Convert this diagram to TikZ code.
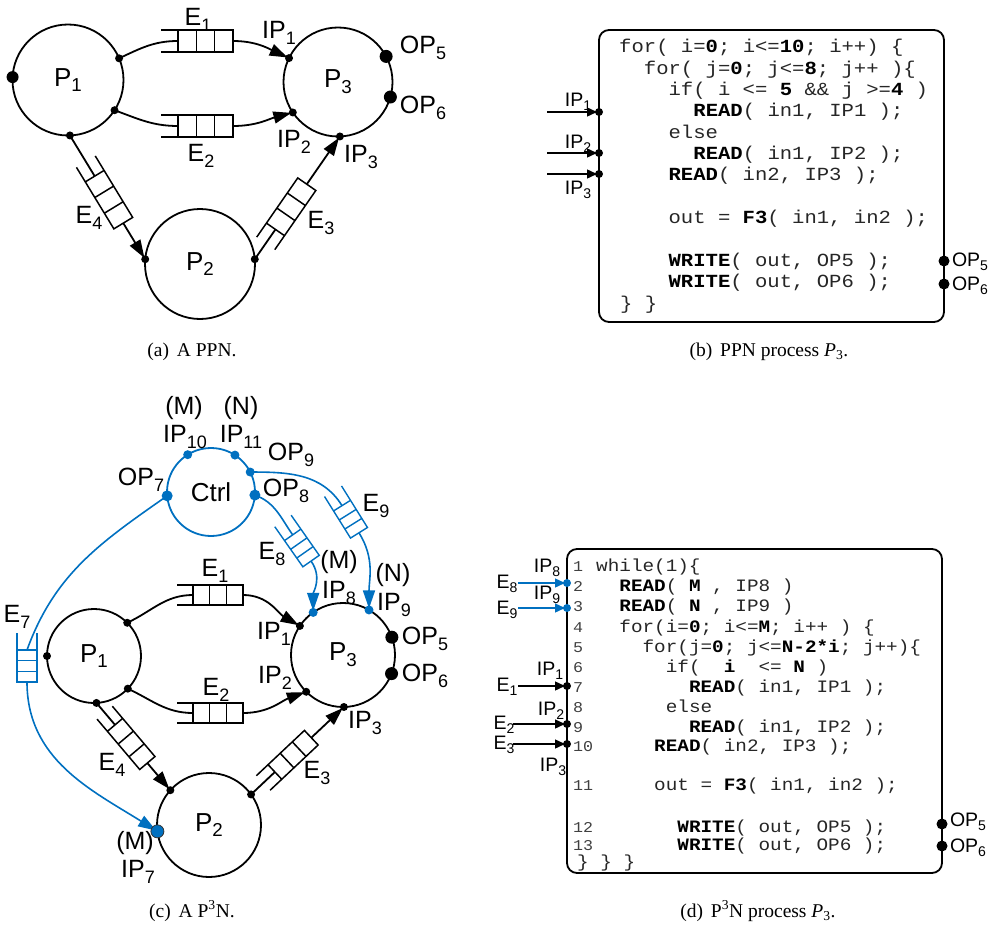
\documentclass[tikz,border=0pt]{standalone}
\usepackage{fontspec}
\usepackage{graphicx}
\setmainfont{Liberation Serif}
\newfontfamily\labfont{Liberation Sans}
\newfontfamily\codefont{Liberation Mono}
\usetikzlibrary{arrows.meta,calc}
\definecolor{pblue}{RGB}{0,112,192}
\newcommand\sbs[1]{\raisebox{-0.22em}{\scalebox{0.72}{#1}}}
\newcommand\kw[1]{\textbf{\color{black}#1}}
\newcommand\cbB[1]{\scalebox{1.113}[1]{#1}}
\newcommand\cbD[1]{\scalebox{1.111}[1]{#1}}
\newcommand\pdot[3][black]{\fill[#1] (#2) circle (#3);}
% fifo: name, position, angle, length, width, open part, colour, line width
\newcommand\fifo[8]{%
  \pgfmathsetmacro\fqL{#4/2}%
  \pgfmathsetmacro\fqW{#5/2}%
  \pgfmathsetmacro\fqB{-#4/2+#6}%
  \pgfmathsetmacro\fqC{(#4-#6)/3}%
  \begin{scope}[shift={#2},rotate=#3]
    \fill[white] (\fqB,-\fqW) rectangle (\fqL,\fqW);
    \draw[#7,line width=#8] (-\fqL,\fqW) -- (\fqL,\fqW) (-\fqL,-\fqW) -- (\fqL,-\fqW)
      (\fqB,-\fqW) rectangle (\fqL,\fqW)
      (\fqB+\fqC,-\fqW) -- (\fqB+\fqC,\fqW) (\fqB+2*\fqC,-\fqW) -- (\fqB+2*\fqC,\fqW);
    \coordinate (#1-box) at (\fqB,0);
    \coordinate (#1-out) at (\fqL,0);
  \end{scope}}
\newcommand\fifoon[9]{%
  \pgfmathanglebetweenpoints{\pgfpointanchor{#2}{center}}{\pgfpointanchor{#3}{center}}%
  \let\fqAng\pgfmathresult
  \fifo{#1}{($(#2)!#4!(#3)$)}{\fqAng}{#5}{#6}{#7}{#8}{#9}}
\tikzset{
  proc/.style={circle,draw,line width=1.8pt,inner sep=0pt,outer sep=0pt,font={\labfont\fontsize{26}{30}\selectfont}},
  lab/.style={inner sep=0pt,font={\labfont\fontsize{25}{29}\selectfont}},
  slab/.style={inner sep=0pt,font={\labfont\fontsize{19.5}{22}\selectfont}},
  conn/.style={line width=1.8pt},
  bconn/.style={line width=1.6pt,draw=pblue},
  tipA/.style={-{Triangle[length=18pt,width=12pt]},shorten >=1.5pt},
  tipS/.style={-{Triangle[length=10pt,width=9pt]},shorten >=2pt,line width=1.4pt},
  cbox/.style={draw,rounded corners=10pt,line width=1.8pt,inner sep=0pt},
  codeB/.style={anchor=base west,inner sep=0pt,text=black!85,font={\codefont\fontsize{18.5}{22}\selectfont}},
  codeD/.style={anchor=base west,inner sep=0pt,text=black!85,font={\codefont\fontsize{17.4}{20}\selectfont}},
  lnum/.style={anchor=base west,inner sep=0pt,text=black!75,font={\codefont\fontsize{15}{18}\selectfont}},
  captxt/.style={inner sep=0pt,font={\fontsize{19.5}{23}\selectfont}}
}
\begin{document}
\begin{tikzpicture}[x=1pt,y=1pt]
\useasboundingbox (0,0) rectangle (994,-931);

% ================= (a) =================
\node[proc,minimum size=111pt] (aP1) at (68,-80) {P\sbs{1}};
\node[proc,minimum size=109pt] (aP3) at (338,-82) {P\sbs{3}};
\node[proc,minimum size=110pt] (aP2) at (200,-264) {P\sbs{2}};
\coordinate (a11) at (aP1.177);
\coordinate (a12) at (aP1.23);
\coordinate (a13) at (aP1.-33);
\coordinate (a14) at (aP1.-88);
\coordinate (a31) at (aP3.154);
\coordinate (a32) at (aP3.214);
\coordinate (a33) at (aP3.272);
\coordinate (a35) at (aP3.28);
\coordinate (a36) at (aP3.-16);
\coordinate (a21) at (aP2.175);
\coordinate (a22) at (aP2.5);

\fifo{aE1}{(197,-41)}{0}{72}{22}{17}{black}{1.5pt}
\fifo{aE2}{(197,-126)}{0}{72}{22}{17}{black}{1.5pt}
\fifoon{aE4}{a14}{a21}{0.46}{72}{22}{17}{black}{1.5pt}
\fifoon{aE3}{a22}{a33}{0.37}{72}{22}{17}{black}{1.5pt}

\draw[conn] (a12) to[out=25,in=180] (aE1-box);
\draw[conn,tipA] (aE1-out) to[out=0,in=155] (a31);
\draw[conn] (a13) to[out=-20,in=180] (aE2-box);
\draw[conn,tipA] (aE2-out) to[out=0,in=195] (a32);
\draw[conn] (a14) -- (aE4-box);
\draw[conn,tipA] (aE4-out) -- (a21);
\draw[conn] (a22) -- (aE3-box);
\draw[conn,tipA] (aE3-out) -- (a33);

\pdot{a11}{6}
\pdot{a12}{4}
\pdot{a13}{4}
\pdot{a14}{4}
\pdot{a31}{4}
\pdot{a32}{4}
\pdot{a33}{4}
\pdot{a35}{6.5}
\pdot{a36}{6.5}
\pdot{a21}{4}
\pdot{a22}{4}

\node[lab] (laE1) at (198,-20) {E\sbs{1}};
\node[lab] (laE2) at (201,-156) {E\sbs{2}};
\node[lab] (laE3) at (321,-223) {E\sbs{3}};
\node[lab] (laE4) at (89,-218) {E\sbs{4}};
\node[lab] (laI1) at (279,-33) {IP\sbs{1}};
\node[lab] (laI2) at (294,-142) {IP\sbs{2}};
\node[lab] (laI3) at (361,-157) {IP\sbs{3}};
\node[lab] (laO5) at (423,-48) {OP\sbs{5}};
\node[lab] (laO6) at (423,-108) {OP\sbs{6}};

% ================= (b) =================
\node[cbox,minimum width=345pt,minimum height=292pt] (bB) at (771.5,-176) {};
\node[codeB] (b1) at (619,-53) {\cbB{for( i=\kw{0}; i<=\kw{10}; i++) \{}};
\node[codeB] (b2) at (643.7,-74.3) {\cbB{for( j=\kw{0}; j<=\kw{8}; j++ )\{}};
\node[codeB] (b3) at (668.4,-95.7) {\cbB{if( i <= \kw{5} \&\& j >=\kw{4} )}};
\node[codeB] (b4) at (693.2,-117) {\cbB{\kw{READ}( in1, IP1 );}};
\node[codeB] (b5) at (668.4,-138.3) {\cbB{else}};
\node[codeB] (b6) at (693.2,-159.7) {\cbB{\kw{READ}( in1, IP2 );}};
\node[codeB] (b7) at (668.4,-181) {\cbB{\kw{READ}( in2, IP3 );}};
\node[codeB] (b9) at (668.4,-223.7) {\cbB{out = \kw{F3}( in1, in2 );}};
\node[codeB] (b11) at (668.4,-266.3) {\cbB{\kw{WRITE}( out, OP5 );}};
\node[codeB] (b12) at (668.4,-287.7) {\cbB{\kw{WRITE}( out, OP6 );}};
\node[codeB] (b13) at (620,-309) {\cbB{\} \}}};

\coordinate (bI1) at (599,-112);
\coordinate (bI2) at (599,-153);
\coordinate (bI3) at (599,-174);
\coordinate (bS1) at (547,-112);
\coordinate (bS2) at (547,-153);
\coordinate (bS3) at (547,-174);
\coordinate (bO5) at (944,-261);
\coordinate (bO6) at (944,-284);
\draw[tipS] (bS1) -- (bI1);
\draw[tipS] (bS2) -- (bI2);
\draw[tipS] (bS3) -- (bI3);
\pdot{bI1}{4}
\pdot{bI2}{4}
\pdot{bI3}{4}
\pdot{bO5}{5.5}
\pdot{bO6}{5.5}
\node[slab] (lbI1) at (578,-102) {IP\sbs{1}};
\node[slab] (lbI2) at (578,-144) {IP\sbs{2}};
\node[slab] (lbI3) at (578,-190) {IP\sbs{3}};
\node[slab] (lbO5) at (970,-262) {OP\sbs{5}};
\node[slab] (lbO6) at (970,-286) {OP\sbs{6}};

% ================= (c) =================
\node[proc,draw=pblue,minimum size=88pt] (cC) at (211,-492) {Ctrl};
\node[proc,minimum size=94pt] (cP1) at (94,-656) {P\sbs{1}};
\node[proc,minimum size=104pt] (cP3) at (343,-655) {P\sbs{3}};
\node[proc,minimum size=104pt] (cP2) at (209,-825) {P\sbs{2}};

\coordinate (cI10) at (cC.122);
\coordinate (cI11) at (cC.57);
\coordinate (cO9) at (cC.27);
\coordinate (cO8) at (cC.-4);
\coordinate (cO7) at (cC.185);
\coordinate (c11) at (cP1.45);
\coordinate (c12) at (cP1.180);
\coordinate (c13) at (cP1.-44);
\coordinate (c14) at (cP1.-87);
\coordinate (c38) at (cP3.125);
\coordinate (c39) at (cP3.60);
\coordinate (c31) at (cP3.146);
\coordinate (c32) at (cP3.225);
\coordinate (c33) at (cP3.271);
\coordinate (c35) at (cP3.20);
\coordinate (c36) at (cP3.-21);
\coordinate (c21) at (cP2.138);
\coordinate (c22) at (cP2.36);
\coordinate (c27) at (cP2.187);

\fifo{cE1}{(210,-595)}{0}{66}{20}{16}{black}{1.5pt}
\fifo{cE2}{(210,-713)}{0}{66}{20}{16}{black}{1.5pt}
\fifoon{cE4}{c14}{c21}{0.4}{66}{20}{16}{black}{1.5pt}
\fifoon{cE3}{c22}{c33}{0.39}{66}{20}{16}{black}{1.5pt}
\fifo{cE7}{(27,-657.5)}{-90}{49}{20}{17}{pblue}{1.4pt}
\fifo{cE8}{(297,-541)}{-55}{49}{20}{17}{pblue}{1.4pt}
\fifo{cE9}{(346,-512)}{-58}{49}{20}{17}{pblue}{1.4pt}

\draw[conn] (c11) to[out=25,in=180] (cE1-box);
\draw[conn,tipA] (cE1-out) to[out=0,in=150] (c31);
\draw[conn] (c13) to[out=-25,in=180] (cE2-box);
\draw[conn,tipA] (cE2-out) to[out=0,in=200] (c32);
\draw[conn] (c14) -- (cE4-box);
\draw[conn,tipA] (cE4-out) -- (c21);
\draw[conn] (c22) -- (cE3-box);
\draw[conn,tipA] (cE3-out) -- (c33);

\draw[bconn] (cO7) to[out=215,in=70] (cE7-box);
\draw[bconn,tipA,pblue] (cE7-out) to[out=-90,in=148] (c27);
\draw[bconn] (cO8) to[out=-20,in=125] (cE8-box);
\draw[bconn,tipA,pblue] (cE8-out) to[out=-55,in=90] (c38);
\draw[bconn] (cO9) to[out=0,in=122] (cE9-box);
\draw[bconn,tipA,pblue] (cE9-out) to[out=-58,in=90] (c39);

\pdot[pblue]{cI10}{4.5}
\pdot[pblue]{cI11}{4.5}
\pdot[pblue]{cO9}{4.5}
\pdot[pblue]{cO8}{5.5}
\pdot[pblue]{cO7}{5.5}
\pdot{c11}{4}
\pdot{c12}{4}
\pdot{c13}{4}
\pdot{c14}{4}
\pdot[pblue]{c38}{4.5}
\pdot[pblue]{c39}{4.5}
\pdot{c31}{4}
\pdot{c32}{4}
\pdot{c33}{4}
\pdot{c35}{6.5}
\pdot{c36}{6.5}
\pdot{c21}{4}
\pdot{c22}{4}
\filldraw[fill=pblue,draw=black!80,line width=0.8pt] (c27) circle (6.5);

\node[lab] (lcM1) at (184,-408) {(M)};
\node[lab] (lcI10) at (185,-437) {IP\sbs{10}};
\node[lab] (lcN1) at (241,-408) {(N)};
\node[lab] (lcI11) at (241,-437) {IP\sbs{11}};
\node[lab] (lcO9) at (291,-455) {OP\sbs{9}};
\node[lab] (lcO8) at (286,-491) {OP\sbs{8}};
\node[lab] (lcO7) at (141,-480) {OP\sbs{7}};
\node[lab] (lcE9) at (376,-506) {E\sbs{9}};
\node[lab] (lcE8) at (272,-554) {E\sbs{8}};
\node[lab] (lcM2) at (339,-562) {(M)};
\node[lab] (lcI8) at (339,-593) {IP\sbs{8}};
\node[lab] (lcN2) at (393,-575) {(N)};
\node[lab] (lcI9) at (394,-605) {IP\sbs{9}};
\node[lab] (lcE7) at (17,-617) {E\sbs{7}};
\node[lab] (lcE1) at (215,-571) {E\sbs{1}};
\node[lab] (lcE2) at (216,-690) {E\sbs{2}};
\node[lab] (lcI1) at (274,-634) {IP\sbs{1}};
\node[lab] (lcI2) at (275,-678) {IP\sbs{2}};
\node[lab] (lcI3) at (365,-723) {IP\sbs{3}};
\node[lab] (lcO5) at (425,-639) {OP\sbs{5}};
\node[lab] (lcO6) at (425,-676) {OP\sbs{6}};
\node[lab] (lcE4) at (112,-765) {E\sbs{4}};
\node[lab] (lcE3) at (317,-773) {E\sbs{3}};
\node[lab] (lcM3) at (135,-843) {(M)};
\node[lab] (lcI7) at (138,-872) {IP\sbs{7}};

% ================= (d) =================
\node[cbox,minimum width=375pt,minimum height=324pt] (dB) at (754.5,-711) {};
\node[lnum] (n1) at (573,-571.5) {\cbD{1}};
\node[lnum] (n2) at (573,-591.5) {\cbD{2}};
\node[lnum] (n3) at (573,-611.5) {\cbD{3}};
\node[lnum] (n4) at (573,-632) {\cbD{4}};
\node[lnum] (n5) at (573,-652.5) {\cbD{5}};
\node[lnum] (n6) at (573,-672.5) {\cbD{6}};
\node[lnum] (n7) at (573,-692.5) {\cbD{7}};
\node[lnum] (n8) at (573,-712.5) {\cbD{8}};
\node[lnum] (n9) at (573,-732.5) {\cbD{9}};
\node[lnum] (n10) at (573,-751) {\cbD{10}};
\node[lnum] (n11) at (573,-790) {\cbD{11}};
\node[lnum] (n12) at (573,-832) {\cbD{12}};
\node[lnum] (n13) at (573,-850.5) {\cbD{13}};
\node[codeD] (d1) at (596,-571.5) {\cbD{while(1)\{}};
\node[codeD] (d2) at (619.2,-591.5) {\cbD{\kw{READ}( \kw{M} , IP8 )}};
\node[codeD] (d3) at (619.2,-611.5) {\cbD{\kw{READ}( \kw{N} , IP9 )}};
\node[codeD] (d4) at (619.2,-632) {\cbD{for(i=\kw{0}; i<=\kw{M}; i++ ) \{}};
\node[codeD] (d5) at (642.4,-652.5) {\cbD{for(j=\kw{0}; j<=\kw{N-2*i}; j++)\{}};
\node[codeD] (d6) at (665.6,-672.5) {\cbD{if(\ \ \kw{i}\ \ <= \kw{N} )}};
\node[codeD] (d7) at (688.8,-692.5) {\cbD{\kw{READ}( in1, IP1 );}};
\node[codeD] (d8) at (665.6,-712.5) {\cbD{else}};
\node[codeD] (d9) at (688.8,-732.5) {\cbD{\kw{READ}( in1, IP2 );}};
\node[codeD] (d10) at (654,-751) {\cbD{\kw{READ}( in2, IP3 );}};
\node[codeD] (d11) at (654,-790) {\cbD{out = \kw{F3}( in1, in2 );}};
\node[codeD] (d12) at (677.2,-832) {\cbD{\kw{WRITE}( out, OP5 );}};
\node[codeD] (d13) at (677.2,-850.5) {\cbD{\kw{WRITE}( out, OP6 );}};
\node[codeD] (d14) at (577,-867) {\cbD{\} \} \}}};

\coordinate (dI8) at (567,-583);
\coordinate (dI9) at (567,-608);
\coordinate (dI1) at (567,-686);
\coordinate (dI2) at (567,-724);
\coordinate (dI3) at (567,-744);
\coordinate (dS8) at (518,-583);
\coordinate (dS9) at (518,-608);
\coordinate (dS1) at (518,-686);
\coordinate (dS2) at (513,-724);
\coordinate (dS3) at (513,-744);
\coordinate (dO5) at (942,-824);
\coordinate (dO6) at (942,-846);
\draw[tipS,pblue] (dS8) -- (dI8);
\draw[tipS,pblue] (dS9) -- (dI9);
\draw[tipS] (dS1) -- (dI1);
\draw[tipS] (dS2) -- (dI2);
\draw[tipS] (dS3) -- (dI3);
\pdot[pblue]{dI8}{4}
\pdot[pblue]{dI9}{4}
\pdot{dI1}{4}
\pdot{dI2}{4}
\pdot{dI3}{4}
\pdot{dO5}{5.5}
\pdot{dO6}{5.5}
\node[slab] (ldE8) at (507,-584) {E\sbs{8}};
\node[slab] (ldI8) at (547,-568) {IP\sbs{8}};
\node[slab] (ldE9) at (507,-610) {E\sbs{9}};
\node[slab] (ldI9) at (547,-595) {IP\sbs{9}};
\node[slab] (ldE1) at (507,-687) {E\sbs{1}};
\node[slab] (ldI1) at (550,-671) {IP\sbs{1}};
\node[slab] (ldE2) at (504,-725) {E\sbs{2}};
\node[slab] (ldI2) at (551,-711) {IP\sbs{2}};
\node[slab] (ldE3) at (504,-745) {E\sbs{3}};
\node[slab] (ldI3) at (553,-767) {IP\sbs{3}};
\node[slab] (ldO5) at (968,-822) {OP\sbs{5}};
\node[slab] (ldO6) at (968,-848) {OP\sbs{6}};

% ================= captions =================
\node[captxt] (capA) at (192,-352) {(a)\hspace{0.4em}A PPN.};
\node[captxt] (capB) at (769,-352) {(b)\hspace{0.4em}PPN process \textit{P}\textsubscript{3}.};
\node[captxt] (capC) at (192,-911) {(c)\hspace{0.4em}A P\textsuperscript{3}N.};
\node[captxt] (capD) at (758,-911) {(d)\hspace{0.4em}P\textsuperscript{3}N process \textit{P}\textsubscript{3}.};
\end{tikzpicture}
\end{document}
